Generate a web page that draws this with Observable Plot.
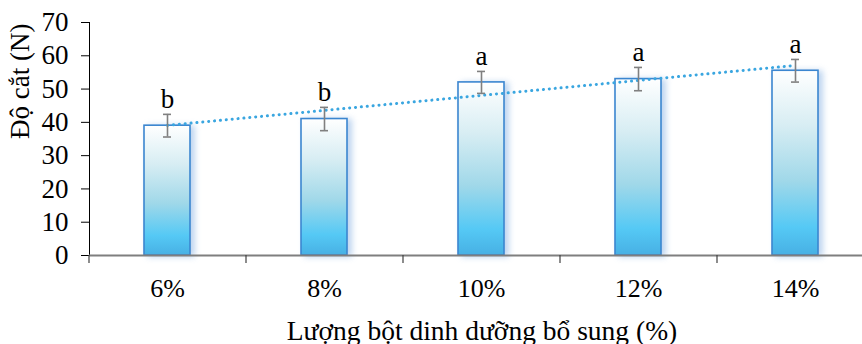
<!DOCTYPE html>
<html>
<head>
<meta charset="utf-8">
<script src="https://cdn.jsdelivr.net/npm/d3@7"></script>
<script src="https://cdn.jsdelivr.net/npm/@observablehq/plot@0.6"></script>
<style>
  html, body { margin: 0; padding: 0; background: #fff; overflow: hidden; }
  #chart svg { display: block; max-width: none !important; }
</style>
</head>
<body>
<div id="chart"></div>
<script>
// Shear force by amount of added nutrient powder
const doses = ["6%", "8%", "10%", "12%", "14%"];
const shearForce = [39.0, 41.0, 52.0, 53.0, 55.5];
const errors = [3.4, 3.5, 3.3, 3.5, 3.4];
const letters = ["b", "b", "a", "a", "a"];
const yTicks = [0, 10, 20, 30, 40, 50, 60, 70];

const yLabel = "Độ cắt (N)";
const xLabel = "Lượng bột dinh dưỡng bổ sung (%)";

const serif = "Liberation Serif";

const rows = doses.map((d, i) => ({
  dose: d,
  value: shearForce[i],
  lo: shearForce[i] - errors[i],
  hi: shearForce[i] + errors[i],
  letter: letters[i]
}));

// Linear trendline (least squares over category index)
const idx = doses.map((_, i) => i);
const mx = d3.mean(idx), my = d3.mean(shearForce);
const slope = d3.sum(idx, i => (i - mx) * (shearForce[i] - my)) / d3.sum(idx, i => (i - mx) ** 2);
const intercept = my - slope * mx;
const trend = doses.map((d, i) => ({dose: d, fit: intercept + slope * i}));

const width = 874, marginLeft = 89, marginRight = 0;
const step = (width - marginLeft - marginRight) / doses.length;
const bandPad = 0.707;
const bandwidth = step * (1 - bandPad);
const capHalf = 4;

const chart = Plot.plot({
  width,
  height: 344,
  marginTop: 22,
  marginBottom: 89,
  marginLeft,
  marginRight,
  style: `font-family: ${serif}; font-size: 26px; color: #000; background: #fff;`,
  x: {domain: doses, paddingInner: bandPad, paddingOuter: bandPad / 2, tickSize: 0, tickPadding: 23, label: null},
  y: {domain: [0, 70], ticks: yTicks, tickSize: 8, tickPadding: 13, tickFormat: d => d, label: null, line: true},
  marks: [
    Plot.barY(rows, {x: "dose", y: "value", fill: "url(#barGrad)", stroke: "#3b86d0", strokeWidth: 1.6}),
    // x axis baseline and category boundary ticks
    Plot.ruleY([0], {stroke: "#7f7f7f", strokeWidth: 2}),
    Plot.ruleX(doses, {x: d => d, y1: 0, y2: -2.4, dx: -step / 2, stroke: "#404040", strokeWidth: 1.2, clip: false}),
    // dotted linear trendline
    Plot.line(trend, {x: "dose", y: "fit", stroke: "#3aa6e0", strokeWidth: 3, strokeDasharray: "0.1,5.8", strokeLinecap: "round"}),
    // error bars
    Plot.ruleX(rows, {x: "dose", y1: "lo", y2: "hi", stroke: "#808080", strokeWidth: 1.6}),
    Plot.tickY(rows, {x: "dose", y: "lo", stroke: "#808080", strokeWidth: 1.6, insetLeft: bandwidth / 2 - capHalf, insetRight: bandwidth / 2 - capHalf}),
    Plot.tickY(rows, {x: "dose", y: "hi", stroke: "#808080", strokeWidth: 1.6, insetLeft: bandwidth / 2 - capHalf, insetRight: bandwidth / 2 - capHalf}),
    // significance letters
    Plot.text(rows, {x: "dose", y: "hi", text: "letter", lineAnchor: "bottom", dy: -6, fill: "#000", fontSize: 27, fontFamily: serif}),
    // axis titles
    Plot.text([xLabel], {frameAnchor: "bottom", lineAnchor: "bottom", dy: 84, fill: "#000", fontSize: 27.5, fontFamily: serif}),
    Plot.text([yLabel], {frameAnchor: "left", rotate: -90, dx: -69, fill: "#000", fontSize: 27, fontFamily: serif})
  ]
});

const svg = d3.select(chart);
const grad = svg.insert("defs", ":first-child")
  .append("linearGradient")
  .attr("id", "barGrad")
  .attr("x1", 0).attr("y1", 0).attr("x2", 0).attr("y2", 1);
[
  [0, "#ffffff"],
  [0.3, "#d7edf3"],
  [0.6, "#a0d8e9"],
  [0.85, "#55c9f5"],
  [1, "#47b0e4"]
].forEach(([o, c]) => grad.append("stop").attr("offset", o).attr("stop-color", c));

svg.selectAll('g[aria-label="bar"]').style("filter", "drop-shadow(4px 1px 3px rgba(60,130,210,0.35))");

// serif type throughout, including axis tick labels
svg.selectAll("g").filter(function() { return this.getAttribute("font-family"); }).attr("font-family", serif);
svg.selectAll("text").style("font-family", serif);
svg.selectAll('g[aria-label="x-axis tick label"], g[aria-label="x-axis"]')
  .attr("font-size", 26).style("font-size", "26px");
svg.selectAll('g[aria-label="y-axis tick label"], g[aria-label="y-axis"]')
  .attr("font-size", 27).style("font-size", "27px");

document.getElementById("chart").appendChild(chart);
</script>
</body>
</html>
